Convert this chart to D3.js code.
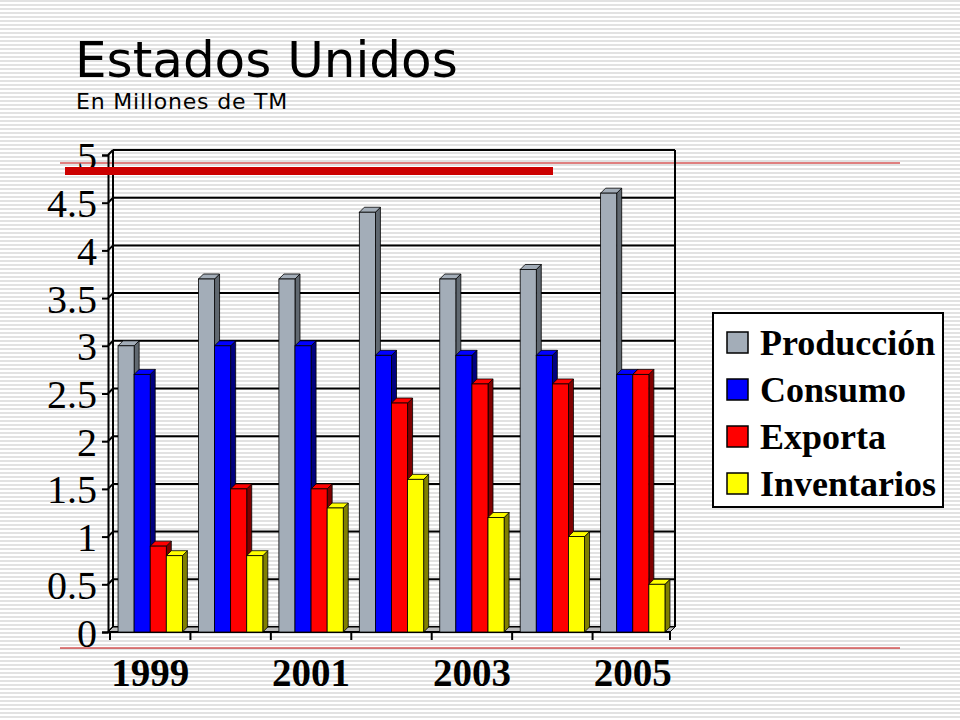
<!DOCTYPE html><html><head><meta charset="utf-8"><script src="https://cdn.jsdelivr.net/npm/d3@7"></script>
<style>body{margin:0}svg{display:block}</style></head><body><svg id="c" width="960" height="720"></svg>
<script>
const years=["1999","2000","2001","2002","2003","2004","2005"];
const yearLabels=["1999","","2001","","2003","","2005"];
const produccion=[3.0,3.7,3.7,4.4,3.7,3.8,4.6];
const consumo=[2.7,3.0,3.0,2.9,2.9,2.9,2.7];
const exporta=[0.9,1.5,1.5,2.4,2.6,2.6,2.7];
const inventarios=[0.8,0.8,1.3,1.6,1.2,1.0,0.5];
const seriesNames=["Producción","Consumo","Exporta","Inventarios"];
const colors=["#a3adb8","#0000ff","#ff0000","#ffff00"];
const sides=["#606870","#000080","#800000","#808000"];
const yTicks=[0,0.5,1,1.5,2,2.5,3,3.5,4,4.5,5];
const series=[produccion,consumo,exporta,inventarios];

const svg=d3.select("#c");
const defs=svg.append("defs");
const pat=defs.append("pattern").attr("id","st").attr("width",4).attr("height",4).attr("patternUnits","userSpaceOnUse");
pat.append("rect").attr("width",4).attr("height",4).attr("fill","#fff");
pat.append("rect").attr("y",0).attr("width",4).attr("height",2).attr("fill","#e2e2e2");
svg.append("rect").attr("width",960).attr("height",720).attr("fill","url(#st)");

svg.append("text").attr("x",75).attr("y",77).attr("font-family","DejaVu Sans").attr("font-size",50).text("Estados Unidos");
svg.append("text").attr("x",76).attr("y",109).attr("font-family","DejaVu Sans").attr("font-size",22).attr("letter-spacing",0.8).text("En Millones de TM");

svg.append("line").attr("x1",60).attr("x2",900).attr("y1",163).attr("y2",163).attr("stroke","#c00000").attr("stroke-width",1);
svg.append("line").attr("x1",60).attr("x2",900).attr("y1",648).attr("y2",648).attr("stroke","#c00000").attr("stroke-width",1);

const dx=5,dy=-5;
const y=d3.scaleLinear().domain([0,5]).range([632,155]);
const x=d3.scaleBand().domain(years).range([110,673]).paddingInner(0).paddingOuter(0);
const xs=d3.scaleBand().domain(d3.range(4)).range([0,x.bandwidth()]).paddingOuter(0.5).paddingInner(0);

const g=svg.append("g");
yTicks.forEach(t=>{
  g.append("line").attr("x1",108).attr("x2",108+dx).attr("y1",y(t)).attr("y2",y(t)+dy).attr("stroke","#000").attr("stroke-width",2);
  g.append("line").attr("x1",108+dx).attr("x2",675).attr("y1",y(t)+dy).attr("y2",y(t)+dy).attr("stroke","#000").attr("stroke-width",2);
});
g.append("line").attr("x1",675).attr("x2",675).attr("y1",y(5)+dy).attr("y2",y(0)+dy).attr("stroke","#000").attr("stroke-width",2);
g.append("line").attr("x1",108+dx).attr("x2",108+dx).attr("y1",y(5)+dy).attr("y2",y(0)+dy).attr("stroke","#000").attr("stroke-width",2);
g.append("path").attr("d",`M108,${y(0)}L${108+dx},${y(0)+dy}L675,${y(0)+dy}L${675-dx},${y(0)}Z`).attr("fill","#bbb").attr("stroke","#000");

const ya=svg.append("g").attr("transform","translate(108,0)").call(d3.axisLeft(y).tickValues(yTicks).tickSize(6).tickFormat(d=>String(d)));
ya.select(".domain").attr("stroke-width",2);
ya.selectAll("line").attr("stroke-width",2);
ya.selectAll("text").attr("font-family","Liberation Serif").attr("font-size",40).attr("fill","#000").attr("dx",-2).attr("dy","0.35em");

const xa=svg.append("g").attr("transform",`translate(0,${y(0)})`);
xa.append("line").attr("x1",108).attr("x2",670).attr("stroke","#000").attr("stroke-width",2);
years.forEach((d,i)=>{xa.append("line").attr("x1",x(d)).attr("x2",x(d)).attr("y1",0).attr("y2",8).attr("stroke","#000").attr("stroke-width",2);});
xa.append("line").attr("x1",670).attr("x2",670).attr("y1",0).attr("y2",8).attr("stroke","#000").attr("stroke-width",2);
years.forEach((d,i)=>{xa.append("text").attr("x",x(d)+x.bandwidth()/2).attr("y",54).attr("text-anchor","middle")
  .attr("font-family","Liberation Serif").attr("font-weight","bold").attr("font-size",39).text(yearLabels[i]);});

const bars=svg.append("g");
years.forEach((yr,i)=>{
  series.forEach((s,k)=>{
    const x0=x(yr)+xs(k), w=xs.bandwidth(), top=y(s[i]), bot=y(0);
    bars.append("path").attr("d",`M${x0+w},${bot}L${x0+w+dx},${bot+dy}L${x0+w+dx},${top+dy}L${x0+w},${top}Z`).attr("fill",sides[k]).attr("stroke","#000").attr("stroke-width",0.8);
    bars.append("path").attr("d",`M${x0},${top}L${x0+dx},${top+dy}L${x0+w+dx},${top+dy}L${x0+w},${top}Z`).attr("fill",colors[k]).attr("stroke","#000").attr("stroke-width",0.8);
    bars.append("rect").attr("x",x0).attr("y",top).attr("width",w).attr("height",bot-top).attr("fill",colors[k]).attr("stroke","#000").attr("stroke-width",0.8);
  });
});

svg.append("rect").attr("x",65).attr("y",167).attr("width",488).attr("height",8).attr("fill","#cc0000");

const lg=svg.append("g");
lg.append("rect").attr("x",713).attr("y",313).attr("width",230).attr("height",194).attr("fill","#fff").attr("stroke","#000").attr("stroke-width",2);
seriesNames.forEach((n,k)=>{
  const yy=343+k*47;
  lg.append("rect").attr("x",727).attr("y",yy-11).attr("width",21).attr("height",21).attr("fill",colors[k]).attr("stroke","#000").attr("stroke-width",1.5);
  lg.append("text").attr("x",760).attr("y",yy+12).attr("font-family","Liberation Serif").attr("font-weight","bold").attr("font-size",36).text(n);
});
</script></body></html>
